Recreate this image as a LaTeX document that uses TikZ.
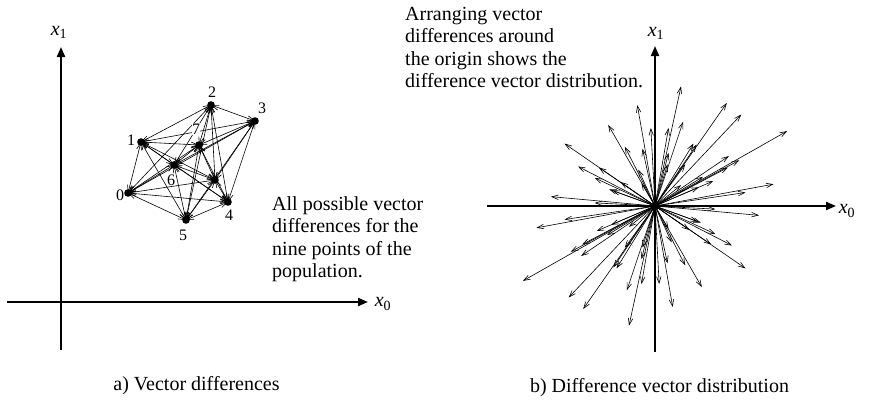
\documentclass[tikz,border=0pt]{standalone}
\usepackage{fontspec}
\setmainfont{Liberation Serif}
\usetikzlibrary{arrows.meta,calc}
\begin{document}
\begin{tikzpicture}[x=1pt,y=-1pt,
  axis/.style={line width=2pt,-{Triangle[length=10pt,width=8pt]}},
  link/.style={line width=0.6pt,{Straight Barb[length=7pt,width=5pt]}-{Straight Barb[length=7pt,width=5pt]}},
  vec/.style={line width=0.6pt,-{Straight Barb[length=6.5pt,width=4.5pt]}},
  big/.style={font=\fontsize{20}{22.5}\selectfont,inner sep=0pt,align=left},
  captxt/.style={font=\fontsize{20}{22.5}\selectfont,inner sep=0pt},
  num/.style={font=\fontsize{16}{16}\selectfont,inner sep=0pt},
  axlab/.style={font=\fontsize{20}{20}\selectfont,inner sep=0pt}]
\useasboundingbox (0,0) rectangle (875,399);
% ---- left axes
\coordinate (lo) at (61,302);
\coordinate (lxs) at (7,302);
\coordinate (lxe) at (368,302);
\coordinate (lys) at (61,350);
\coordinate (lye) at (61,47);
\draw[axis] (lxs) -- (lxe);
\draw[axis] (lys) -- (lye);
\node[axlab] (lx0) at (383,304) {\textit{x}\textsubscript{0}};
\node[axlab] (lx1) at (59,32) {\textit{x}\textsubscript{1}};
% ---- points
\coordinate (p0) at (128,193);
\coordinate (p1) at (141,142);
\coordinate (p2) at (211,105);
\coordinate (p3) at (255,121);
\coordinate (p4) at (228,202);
\coordinate (p5) at (186,220);
\coordinate (p6) at (174,165);
\coordinate (p7) at (199,145);
\coordinate (p8) at (215,180);
\foreach \i in {0,...,8}{
  \foreach \j in {0,...,8}{
    \ifnum\i<\j \draw[link] (p\i) -- (p\j); \fi
  }
}
\foreach \i in {0,...,8}{ \fill (p\i) circle (3.8); }
\node[num] (l0) at (120,195) {0};
\node[num] (l1) at (131,140) {1};
\node[num] (l2) at (212,92) {2};
\node[num] (l3) at (262,108) {3};
\node[num] (l4) at (229,215) {4};
\node[num] (l5) at (183,235) {5};
\node[num] (l6) at (171,180) {6};
\node[num,fill=white,inner sep=0.3pt] (l7) at (196,129) {7};
\node[big,anchor=north west] (t1) at (272,196)
  {All possible vector\\differences for the\\nine points of the\\population.};
\node[captxt,anchor=base] (c1) at (196.5,390) {a) Vector differences};
% ---- right axes
\coordinate (ro) at (655,206);
\coordinate (rxs) at (487,206);
\coordinate (rxe) at (836,206);
\coordinate (rys) at (655,352);
\coordinate (rye) at (655,46);
\draw[axis] (rxs) -- (rxe);
\draw[axis] (rys) -- (rye);
\node[axlab] (rx0) at (847,211) {\textit{x}\textsubscript{0}};
\node[axlab] (rx1) at (656,33) {\textit{x}\textsubscript{1}};
\foreach \i in {0,...,8}{
  \foreach \j in {0,...,8}{
    \ifnum\i=\j \else \draw[vec] (ro) -- ($(ro)+1.04*(p\j)-1.04*(p\i)$); \fi
  }
}
\fill (ro) circle (4);
\node[big,anchor=north west] (t2) at (405,7)
  {Arranging vector\\differences around\\the origin shows the\\difference vector distribution.};
\node[captxt,anchor=base] (c2) at (659.5,392) {b) Difference vector distribution};
\end{tikzpicture}
\end{document}
